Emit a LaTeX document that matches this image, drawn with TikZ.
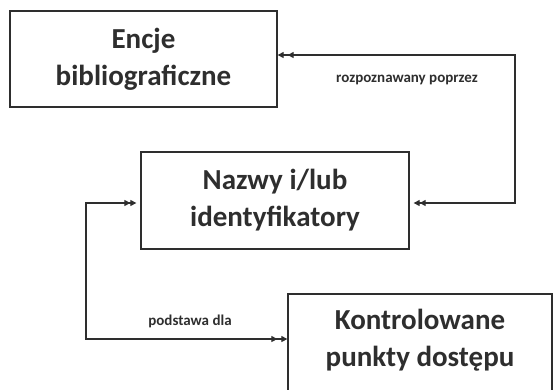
\documentclass[tikz,border=0pt]{standalone}
\usepackage{fontspec}
\setmainfont{Carlito}
\usetikzlibrary{arrows.meta}
\definecolor{ink}{HTML}{2E2E2E}
\tikzset{
  big/.style={font=\fontsize{29}{37}\selectfont\bfseries, text=ink, align=center},
  box/.style={draw=ink, line width=1.3pt, fill=white, inner sep=0pt, big},
  tip/.style={Triangle[length=6pt,width=6pt,sep=4pt]Triangle[length=6pt,width=6pt]},
  link/.style={draw=ink, line width=1.2pt, {Triangle[length=6pt,width=6pt,sep=4pt]Triangle[length=6pt,width=6pt]}-{Triangle[length=6pt,width=6pt,sep=4pt]Triangle[length=6pt,width=6pt]}},
  lbl/.style={font=\fontsize{15}{18}\selectfont\bfseries, text=ink, inner sep=0pt}
}
\begin{document}
\begin{tikzpicture}[x=1pt,y=-1pt]
\useasboundingbox (0,0) rectangle (553,389);
\clip (0,0) rectangle (553,389);
\node[box, minimum width=267pt, minimum height=96pt] (enc) at (143.5,59) {Encje\\bibliograficzne};
\node[box, minimum width=268pt, minimum height=97pt] (naz) at (275,200.5) {Nazwy i/lub\\identyfikatory};
\node[box, minimum width=264pt, minimum height=100pt] (kon) at (420,344) {};
\node[big] (kontxt) at (420,340) {Kontrolowane\\punkty dostępu};
\coordinate (r1) at (515,55);
\coordinate (r2) at (515,203);
\coordinate (l1) at (86,203);
\coordinate (l2) at (86,339);
\draw[link] (naz.east |- r2) -- (r2) -- (r1) -- (enc.east |- r1);
\draw[link] (naz.west |- l1) -- (l1) -- (l2) -- (kon.west |- l2);
\node[lbl] (rp) at (407,80) {rozpoznawany poprzez};
\node[lbl] (pd) at (190,321) {podstawa dla};
\end{tikzpicture}
\end{document}
